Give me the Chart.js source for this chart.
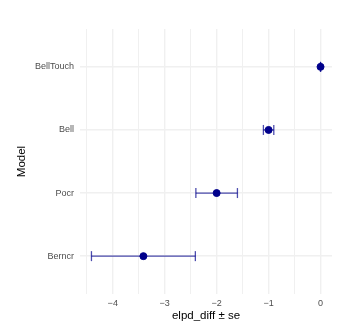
<!DOCTYPE html>
<html>
<head>
<meta charset="utf-8">
<script src="https://cdn.jsdelivr.net/npm/chart.js@4"></script>
<style>
  body { margin: 0; background: #fff; }
</style>
</head>
<body>
<canvas id="grafico" width="355" height="328"></canvas>
<script>
// Modelos de cima para baixo
const models = ["BellTouch", "Bell", "Pocr", "Berncr"];
const elpdDiff = [0, -1.0, -2.0, -3.41];
const seDiff = [0, 0.1, 0.4, 1.0];
const xTicks = [-4.5, -4, -3.5, -3, -2.5, -2, -1.5, -1, -0.5, 0];

const corPonto = "#00008b";
const corBarra = "rgba(0, 0, 139, 0.7)";

// posição vertical: BellTouch em cima
function posY(i) { return models.length - i; }

// limites com expansão de 5% (como no ggplot)
const lo = Math.min(...elpdDiff.map((v, i) => v - seDiff[i]));
const hi = Math.max(...elpdDiff.map((v, i) => v + seDiff[i]));
const pad = (hi - lo) * 0.05;

let datasets = [{
  data: elpdDiff.map((v, i) => ({ x: v, y: posY(i) })),
  backgroundColor: corPonto,
  borderColor: corPonto,
  pointRadius: 3.5,
  pointHoverRadius: 3.5,
  showLine: false
}];

// barras de erro com "caps" verticais
elpdDiff.forEach(function (v, i) {
  datasets.push({
    data: [{ x: v - seDiff[i], y: posY(i) }, { x: v + seDiff[i], y: posY(i) }],
    showLine: true,
    borderColor: corBarra,
    borderWidth: 1.3,
    pointStyle: "line",
    rotation: 90,
    pointRadius: 5,
    pointHoverRadius: 5,
    pointBorderColor: corBarra,
    pointBorderWidth: 1.3
  });
});

new Chart(document.getElementById("grafico").getContext("2d"), {
  type: "scatter",
  data: { datasets: datasets },
  options: {
    responsive: false,
    animation: false,
    layout: { padding: { top: 29, right: 23, left: 0, bottom: 0 } },
    plugins: { legend: { display: false }, tooltip: { enabled: false } },
    scales: {
      x: {
        type: "linear",
        min: lo - pad,
        max: hi + pad,
        afterBuildTicks: function (scale) {
          scale.ticks = xTicks.map(v => ({ value: v }));
        },
        afterFit: function (scale) { scale.height = 34; },
        border: { display: false },
        grid: {
          drawTicks: false,
          color: "#f0f0f0",
          lineWidth: ctx => Number.isInteger(ctx.tick.value) ? 1.4 : 1
        },
        ticks: {
          padding: 4,
          color: "#4d4d4d",
          font: { family: "Liberation Sans", size: 9 },
          callback: v => Number.isInteger(v) ? String(v).replace("-", "\u2212") : ""
        },
        title: {
          display: true,
          text: "elpd_diff \u00b1 se",
          color: "#000",
          font: { family: "Liberation Sans", size: 11.5 },
          padding: { top: 0, bottom: 5 }
        }
      },
      y: {
        type: "linear",
        min: 0.4,
        max: models.length + 0.6,
        afterBuildTicks: function (scale) {
          scale.ticks = models.map((m, i) => ({ value: posY(i) }));
        },
        afterFit: function (scale) { scale.width = 80; },
        border: { display: false },
        grid: { drawTicks: false, color: "#f0f0f0", lineWidth: 1.4 },
        ticks: {
          padding: 6,
          color: "#4d4d4d",
          font: { family: "Liberation Sans", size: 9 },
          callback: v => models[models.length - v]
        },
        title: {
          display: true,
          text: "Model",
          color: "#000",
          font: { family: "Liberation Sans", size: 11.5 },
          padding: { top: 15, bottom: 0 }
        }
      }
    }
  }
});
</script>
</body>
</html>
